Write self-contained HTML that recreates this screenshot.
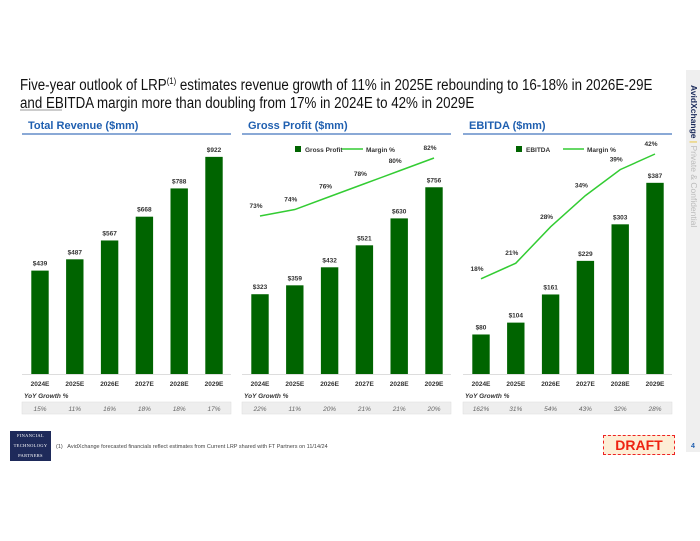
<!DOCTYPE html>
<html><head><meta charset="utf-8">
<style>
body{margin:0;width:700px;height:541px;background:#fff;font-family:"Liberation Sans",sans-serif;position:relative;overflow:hidden}
.abs{position:absolute}
.title{left:20px;top:72px;font-size:15.5px;line-height:18px;color:#111;white-space:nowrap;transform:scaleX(0.86);transform-origin:0 0}
.ph{font-size:11px;color:#1f5fb0;font-weight:bold}
.ul{height:2px;background:#8aa9d6}
</style></head><body>
<div class="abs title">Five-year outlook of LRP<sup style="font-size:9px">(1)</sup> estimates revenue growth of 11% in 2025E rebounding to 16-18% in 2026E-29E<br>and EBITDA margin more than doubling from 17% in 2024E to 42% in 2029E</div>
<div class="abs" style="left:20px;top:109px;width:42px;height:2px;background:#ccc"></div>

<div class="abs" style="left:686px;top:70px;width:14px;height:382px;background:#efefef"></div>
<div class="abs" style="transform:rotate(90deg);transform-origin:0 0;font-size:8.5px;white-space:nowrap;top:85px;left:699px"><b style="color:#1a2a5a">AvidXchange</b> <span style="color:#e8b800">|</span> <span style="color:#bbb">Private &amp; Confidential</span></div>

<svg class="abs" style="left:0;top:0" width="700" height="541" id="chart"></svg>

<div class="abs" style="left:10px;top:431px;width:41px;height:30px;background:#1e2a5a;color:#fff;font-family:'Liberation Serif',serif;font-size:4.5px;text-align:center;line-height:10px;letter-spacing:.3px">FINANCIAL<br>TECHNOLOGY<br>PARTNERS</div>
<div class="abs" style="left:56px;top:444px;font-size:5.5px;color:#444">(1)&nbsp;&nbsp;&nbsp;AvidXchange forecasted financials reflect estimates from Current LRP shared with FT Partners on 11/14/24</div>
<div class="abs" style="left:603px;top:435px;width:70px;height:18px;background:#fdeed6;border:1px dashed #e22;color:#e21;font-weight:bold;font-size:14px;text-align:center;line-height:18px">DRAFT</div>
<div class="abs" style="left:691px;top:443px;font-size:7px;color:#1f5fb0;font-weight:bold">4</div>

<script>
const years=["2024E","2025E","2026E","2027E","2028E","2029E"];
const revenue=[439,487,567,668,788,922];
const revGrowth=["15%","11%","16%","18%","18%","17%"];
const grossProfit=[323,359,432,521,630,756];
const gpMargin=[73,74,76,78,80,82];
const gpGrowth=["22%","11%","20%","21%","21%","20%"];
const ebitda=[80,104,161,229,303,387];
const ebitdaMargin=[18,21,28,34,39,42];
const ebitdaGrowth=["162%","31%","54%","43%","32%","28%"];

const svg=document.getElementById('chart');
const NS="http://www.w3.org/2000/svg";
function mk(tag,attrs,name,txt){const e=document.createElementNS(NS,tag);for(const k in attrs)e.setAttribute(k,attrs[k]);


if(txt!==undefined)e.textContent=txt;svg.appendChild(e);return e;}
const BASE=374;
function panel(x0,title,vals,scale,growth,margin,mTop,mTopVal,mSlope,legName){
  const d=document.createElement('div');d.className='abs ph';d.style.left=(x0+6)+'px';d.style.top='120px';d.textContent=title;
  
  
  document.body.appendChild(d);
  const u=document.createElement('div');u.className='abs ul';u.style.left=x0+'px';u.style.top='133px';u.style.width='209px';
  
  
  document.body.appendChild(u);
  const cx=i=>x0+18+i*34.8;
  mk('line',{x1:x0,x2:x0+209,y1:BASE+0.5,y2:BASE+0.5,stroke:'#ddd'},'x-axis');
  vals.forEach((v,i)=>{const h=v*scale;
    mk('rect',{x:cx(i)-8.7,y:BASE-h,width:17.4,height:h,fill:'#006400'},'bar');
    mk('text',{x:cx(i),y:BASE-h-5,'font-size':6.5,'font-weight':'bold','text-anchor':'middle',fill:'#333'},'bar-label','$'+v);
    mk('text',{x:cx(i),y:BASE+12,'font-size':6.5,'font-weight':'bold','text-anchor':'middle',fill:'#333'},'x-tick-label',years[i]);
  });
  mk('text',{x:x0+2,y:398,'font-size':6.5,'font-style':'italic','font-weight':'bold',fill:'#333'},'yoy-label','YoY Growth %');
  mk('rect',{x:x0,y:402,width:209,height:12,fill:'#eee',stroke:'#ddd','stroke-width':0.5},'growth-row');
  growth.forEach((g,i)=>mk('text',{x:cx(i),y:411,'font-size':6.5,'font-style':'italic','text-anchor':'middle',fill:'#666'},'growth-value',g));
  if(margin){
    const my=m=>mTop+(mTopVal-m)*mSlope;
    mk('polyline',{points:margin.map((m,i)=>cx(i)+','+my(m)).join(' '),fill:'none',stroke:'#33cc33','stroke-width':1.5},'margin-line');
    margin.forEach((m,i)=>mk('text',{x:cx(i)-4,y:my(m)-8,'font-size':6.5,'font-weight':'bold','text-anchor':'middle',fill:'#333'},'margin-label',m+'%'));
    mk('rect',{x:x0+53,y:146,width:6,height:6,fill:'#006400'},'legend-swatch-bar');
    mk('text',{x:x0+63,y:152,'font-size':6.5,'font-weight':'bold',fill:'#333'},'legend-bar-label',legName);
    mk('line',{x1:x0+100,x2:x0+121,y1:149,y2:149,stroke:'#33cc33','stroke-width':1.5},'legend-swatch-line');
    mk('text',{x:x0+124,y:152,'font-size':6.5,'font-weight':'bold',fill:'#333'},'legend-line-label','Margin %');
  }
}
panel(22,'Total Revenue ($mm)',revenue,0.2355,revGrowth,null);
panel(242,'Gross Profit ($mm)',grossProfit,0.247,gpGrowth,gpMargin,158,82,6.44,'Gross Profit');
panel(463,'EBITDA ($mm)',ebitda,0.494,ebitdaGrowth,ebitdaMargin,154,42,5.2,'EBITDA');
</script>
</body></html>
